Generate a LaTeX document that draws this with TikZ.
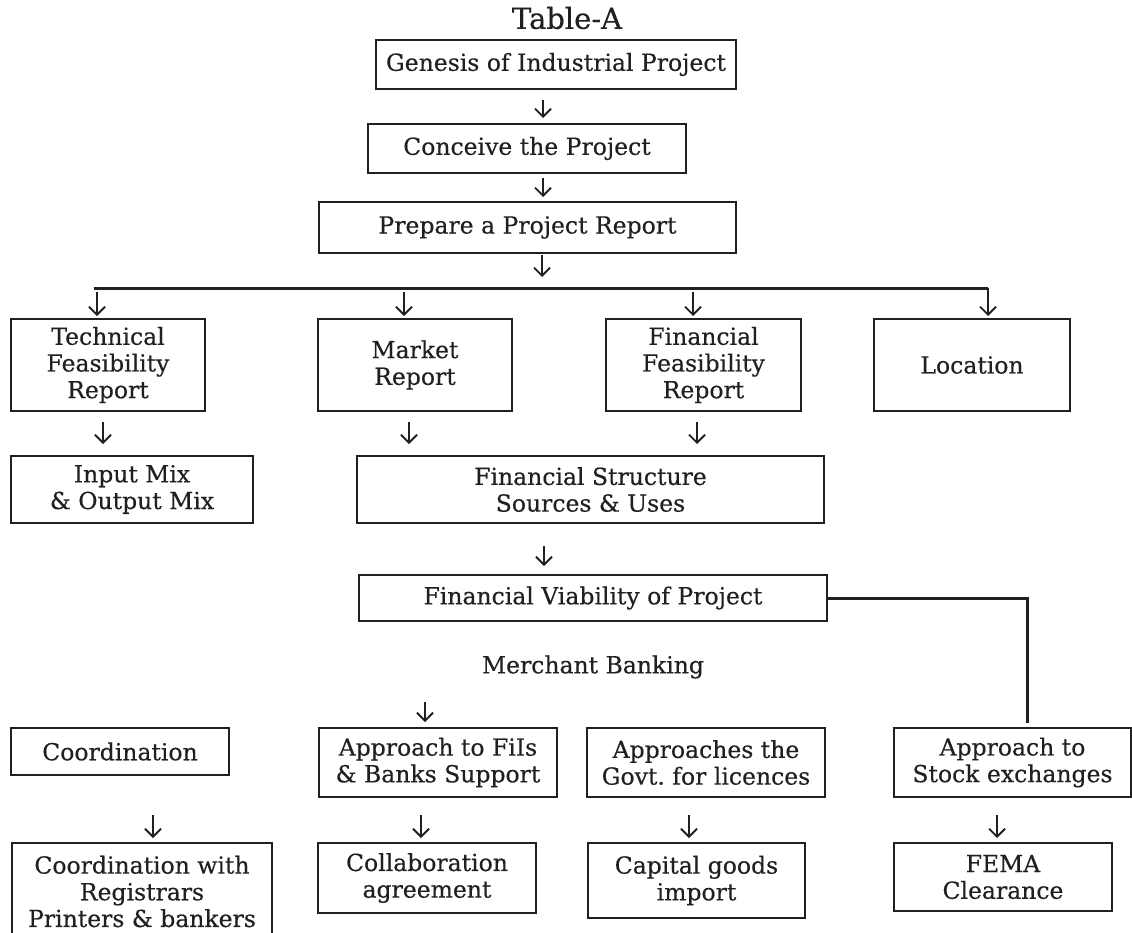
\documentclass[tikz,border=0pt]{standalone}
\usepackage{fontspec}
\setmainfont{DejaVu Serif}[FakeBold=0.4]
\frenchspacing
\usepackage{xcolor}
\usepackage{tikz}
\usetikzlibrary{arrows.meta,positioning}
\definecolor{ink}{HTML}{231F20}
\tikzset{
  box/.style={draw=ink, rectangle, line width=1.9pt, inner sep=0pt, align=center, text=ink, font=\fontsize{23.5}{26.7}\selectfont},
  boxb/.style={box, line width=2.7pt},
  lab/.style={text=ink, font=\fontsize{23.5}{26.7}\selectfont},
  dn/.style={draw=ink, line width=1.8pt, -{Straight Barb[length=8pt,width=16pt]}},
  link/.style={draw=ink, line width=3pt},
}

\begin{document}
\begin{tikzpicture}[x=1pt,y=-1pt]
\useasboundingbox (0,0) rectangle (1132,932);

\node[lab, font=\fontsize{29}{31}\selectfont] (tt) at (567,18) {Table-A};

% top chain
\node[box, minimum width=360pt, minimum height=49pt] (gen) at (556,64.5) {Genesis of Industrial Project};
\node[box, minimum width=318pt, minimum height=49pt] (con) at (527,148.5) {Conceive the Project};
\node[box, minimum width=417pt, minimum height=51pt] (rep) at (527.5,227.5) {Prepare a Project Report};

% reports row
\node[box, minimum width=194pt, minimum height=92pt] (tec) at (108,365) {Technical\\Feasibility\\Report};
\node[box, minimum width=194pt, minimum height=92pt] (mkt) at (415,365) {Market\\Report};
\node[box, minimum width=195pt, minimum height=92pt] (fin) at (703.5,365) {Financial\\Feasibility\\Report};
\node[box, minimum width=196pt, minimum height=92pt] (loc) at (972,365) {Location};

\node[box, minimum width=242pt, minimum height=67pt] (mix) at (132,489.5) {Input Mix\\\& Output Mix};
\node[box, minimum width=467pt, minimum height=67pt] (fst) at (590.5,489.5) {Financial Structure\\Sources \& Uses};
\node[boxb, minimum width=468pt, minimum height=46pt] (via) at (593,598) {Financial Viability of Project};

\node[lab] (mb) at (593,667) {Merchant Banking};

% merchant banking row
\node[box, minimum width=218pt, minimum height=47pt] (crd) at (120,751.5) {Coordination};
\node[box, minimum width=238pt, minimum height=69pt] (fii) at (438,762.5) {Approach to FiIs\\\& Banks Support};
\node[box, minimum width=238pt, minimum height=69pt] (gov) at (706,762.5) {Approaches the\\Govt. for licences};
\node[box, minimum width=237pt, minimum height=69pt] (stx) at (1012.5,762.5) {Approach to\\Stock exchanges};

% last row
\node[box, minimum width=260pt, minimum height=97pt] (reg) at (142,891.5) {Coordination with\\Registrars\\Printers \& bankers};
\node[box, minimum width=218pt, minimum height=70pt] (col) at (427,878) {Collaboration\\agreement};
\node[box, minimum width=217pt, minimum height=75pt] (cap) at (696.5,880.5) {Capital goods\\import};
\node[box, minimum width=218pt, minimum height=68pt] (fem) at (1003,877) {FEMA\\Clearance};

% bar under the report and the line to the stock exchanges
\coordinate (bl) at (94,288);
\coordinate (br) at (988,288);
\draw[link] (bl) -- (br);
\coordinate (sx) at (1027,723);
\draw[link] (via.east) -| (sx);

% down arrows
\foreach \n/\x/\ya/\yb in {1/543/100/118, 2/543/178/197, 3/542/255/277,
  4/97/292/316, 5/404/292/316, 6/693/292/316, 7/988/288/316,
  8/103/422/444, 9/409/422/444, 10/697/422/444, 11/544/546/566,
  12/425/702/722, 13/153/815/838, 14/421/815/838, 15/689/815/838, 16/997/815/838}{
  \coordinate (a\n) at (\x,\ya);
  \coordinate (b\n) at (\x,\yb);
  \draw[dn] (a\n) -- (b\n);
}
\end{tikzpicture}
\end{document}
